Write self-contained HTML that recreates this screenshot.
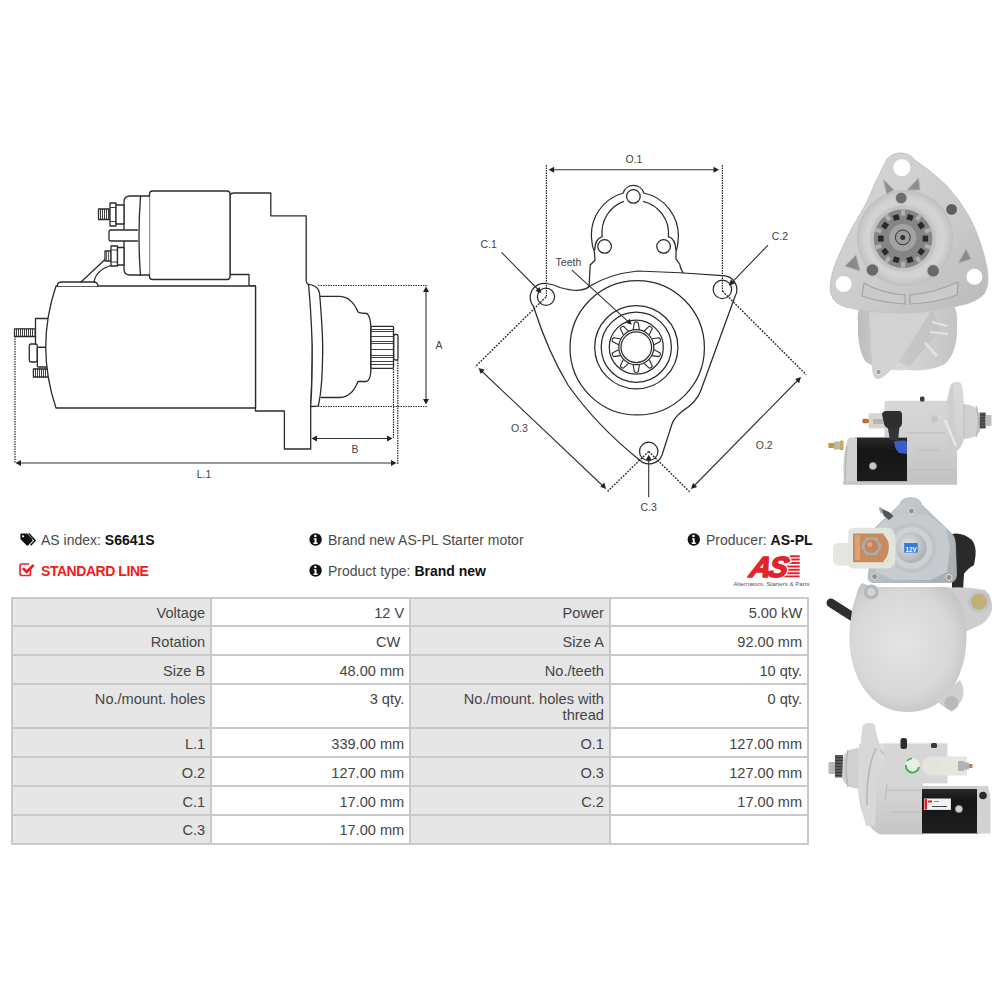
<!DOCTYPE html>
<html><head><meta charset="utf-8">
<style>
html,body{margin:0;padding:0;background:#fff;}
body{width:1000px;height:1000px;position:relative;overflow:hidden;font-family:"Liberation Sans",sans-serif;}
.abs{position:absolute;}
.t{position:absolute;font-size:14px;color:#4a4a4a;white-space:nowrap;line-height:16px;}
.t b{color:#111;}
.tbl{position:absolute;left:11px;top:597px;}
.c{position:absolute;box-sizing:border-box;font-size:14.6px;color:#454545;text-align:right;padding:6.5px 5px 0 0;line-height:16px;}
.lb{background:#e6e6e6;}
.vl{background:#fff;}
svg{position:absolute;left:0;top:0;}
</style></head><body>
<!--LEFT-->
<svg width="1000" height="1000" viewBox="0 0 1000 1000">
<g fill="#fff" stroke="#2b2b2b" stroke-width="1.3" stroke-linejoin="round" stroke-linecap="round">
  <!-- housing -->
  <path d="M230,195 Q231,193 234,193 H270.8 V215.8 H306.2 V280 Q306.5,284 308.5,284.3 L311,290 Q313,330 312.2,360 Q311.5,390 310.7,406.5 V449 H284.4 V411 H255.5 V286 H249 V274.5 H230 Z"/>
  <!-- nose -->
  <path d="M319.8,296.3 H340 Q352,297 358,312 Q361,313.5 367,313.5 Q370.5,317 370.8,326 V372 Q370,381 366,381.5 H358 Q352,397 340,397.5 H321.3"/>
  <!-- flange -->
  <path d="M308.5,284.3 Q316,285 318.5,290 Q320,294 319.8,296.3 Q323.5,340 322.5,360 Q322,390 318.3,405.8 Q316,406.5 310.7,406.5 Q312.5,380 312.2,345 Q311,310 308.5,284.3 Z"/>
  <!-- pinion -->
  <rect x="371" y="326.3" width="22.5" height="42" rx="1"/>
  <rect x="393.8" y="334.5" width="4.2" height="25.5" rx="1.5"/>
  <!-- solenoid body -->
  <rect x="149.5" y="191" width="80.5" height="88.5" rx="3"/>
  <path d="M149.5,196 H130 Q124,196 124,202 V269 Q124,275 130,275 H149.5"/>
  <path d="M140.5,196.5 Q137.5,236 140.5,275" fill="none"/>
  <!-- rear terminal -->
  <rect x="14.5" y="328.8" width="20.7" height="7.7"/>
  <rect x="35.5" y="318.5" width="14" height="28.8"/>
  <rect x="29.3" y="344" width="8" height="18" rx="1.8"/>
  <rect x="37.3" y="347.3" width="12" height="19.7" rx="1"/>
  <rect x="33.4" y="369" width="15" height="8"/>
  <path d="M16.5,329v7M18.5,329v7M20.5,329v7M22.5,329v7M24.5,329v7M26.5,329v7M28.5,329v7M30.5,329v7M32.5,329v7M35.5,369v8M37.5,369v8M39.5,369v8M41.5,369v8M43.5,369v8M45.5,369v8" stroke-width="0.9" fill="none"/>
  <!-- motor body -->
  <path d="M56,286 H255.5 V408 H56 Q35.5,347 56,286 Z"/>
  <!-- pad + wire -->
  <path d="M57.5,286 V284.5 Q58,282 62,282 H94 Q97.5,282 98,286" />
  <path d="M81,282 L105,259.5 M94,282 Q96,270 111,265.5" fill="none"/>
  <!-- top stud/nut -->
  <rect x="98.5" y="209" width="11.5" height="10.5"/>
  <rect x="110" y="203" width="6" height="23"/>
  <rect x="116" y="205" width="8" height="19"/>
  <!-- tab -->
  <path d="M137.5,230 H111 Q109,230 109,232 V239 Q109,241 111,241 H137.5"/>
  <!-- lower stud/nut -->
  <rect x="105" y="251" width="6" height="10"/>
  <rect x="111" y="246" width="6.5" height="20"/>
  <rect x="117.5" y="247.5" width="6.5" height="17.5"/>
</g>
<!-- threads -->
<g stroke="#2b2b2b" stroke-width="0.9">
  <path d="M100.5,209v10.5M102.5,209v10.5M104.5,209v10.5M106.5,209v10.5M108.5,209v10.5"/>
  <path d="M106.6,251.5v9M108.6,251.5v9" stroke-width="0.8"/>
  <path d="M110,207.5h6M110,221.5h6M111,250h6.5M111,262h6.5" stroke-width="0.9"/>
  <path d="M371,329.5h22.5M371,331.5h22.5M371,336.5h22.5M371,341.5h22.5M371,343.5h22.5M371,349.5h22.5M371,355.5h22.5M371,357.5h22.5M371,361.5h22.5M371,364.5h22.5"/>
</g>
<!-- dimensions -->
<g stroke="#222" stroke-width="1.2" fill="none" stroke-dasharray="1.4,1.1">
  <path d="M15,336 V463"/>
  <path d="M318,285.5 H428"/>
  <path d="M318,406.5 H428"/>
  <path d="M393.5,369 V439"/>
  <path d="M397.8,360 V465"/>
</g>
<g stroke="#333" stroke-width="1.1" fill="none">
  <path d="M19,463 H393"/>
  <path d="M315,438.5 H389"/>
  <path d="M426,290 V401"/>
</g>
<g fill="#222">
  <path d="M15.5,463 l5.5,-3 v6z"/>
  <path d="M396.5,463 l-5.5,-3 v6z"/>
  <path d="M311.5,438.5 l5.5,-3 v6z"/>
  <path d="M392.5,438.5 l-5.5,-3 v6z"/>
  <path d="M426,286.5 l-3,5.5 h6z"/>
  <path d="M426,404.5 l-3,-5.5 h6z"/>
</g>
<g font-family="Liberation Sans" font-size="10.5" fill="#444" text-anchor="middle">
  <text x="204" y="478">L.1</text>
  <text x="355" y="452.5">B</text>
  <text x="439" y="349">A</text>
</g>
</svg>
<!--/LEFT-->
<!--MID-->
<svg width="1000" height="1000" viewBox="0 0 1000 1000">
<g fill="#fff" stroke="#2b2b2b" stroke-width="1.25" stroke-linejoin="round">
  <!-- upper bracket outline -->
  <path d="M589,288 L590.2,265 L595,260.2 L594.4,251.8 Q592,246 591.6,239 A43.5,43.5 0 0 1 623.2,193 A10.8,10.8 0 0 1 643.8,193 A43.5,43.5 0 0 1 678.2,239 Q678,246 676,251.8 L676,259 L679.6,263.8 L680.8,268.6 L684.4,275 Z"/>
  <path d="M594.6,250.5 Q595,238.5 602.2,236.6 A33,33 0 0 1 623.8,201.4 M643,201.4 A33,33 0 0 1 668.4,236.6 Q675.5,238.5 676,250.5" fill="none"/>
  <circle cx="633.4" cy="196.4" r="6.8"/>
  <circle cx="604.6" cy="246.4" r="6.8"/>
  <circle cx="663.6" cy="246.4" r="6.8"/>
  <!-- flange -->
  <path d="M533.5,306.5 A14,14 0 0 1 546,283.5 Q553,283.8 560,287.5 Q572,291 580,290.2 Q586,289.5 590,286 Q610,274 637.6,271 Q680,272 722.5,275.6 A14,14 0 0 1 735,296.5 L701,390 Q697,402 683,410.6 Q674,418 672,424 L662,455 A13.8,13.8 0 0 1 639.5,460 Q596,425 568,385 Q548,352 533.5,306.5 Z"/>
  <circle cx="546" cy="296.8" r="8.6"/>
  <circle cx="722.4" cy="289.4" r="9.2"/>
  <circle cx="648.7" cy="451.4" r="9.2"/>
  <circle cx="637.2" cy="347.8" r="67.2"/>
  <circle cx="636.3" cy="347.2" r="41.6"/>
  <circle cx="636.3" cy="347.2" r="35.1"/>
  <circle cx="636.3" cy="347.2" r="27"/>
  <circle cx="636.3" cy="347.2" r="17.5"/>
  <circle cx="636.3" cy="347.2" r="15.3"/>
  <path d="M639.4,329.6 L638.2,322.6 Q636.3,321.2 634.4,322.6 L633.2,329.6 M649.2,334.8 L652.3,328.4 Q651.6,326.2 649.2,326.2 L644.1,331.1 M654.0,344.7 L660.3,341.4 Q661.0,339.2 659.1,337.8 L652.1,338.8 M652.1,355.6 L659.1,356.6 Q661.0,355.2 660.3,353.0 L654.0,349.7 M644.1,363.3 L649.2,368.2 Q651.6,368.2 652.3,366.0 L649.2,359.6 M633.2,364.8 L634.4,371.8 Q636.3,373.2 638.2,371.8 L639.4,364.8 M623.4,359.6 L620.3,366.0 Q621.0,368.2 623.4,368.2 L628.5,363.3 M618.6,349.7 L612.3,353.0 Q611.6,355.2 613.5,356.6 L620.5,355.6 M620.5,338.8 L613.5,337.8 Q611.6,339.2 612.3,341.4 L618.6,344.7 M628.5,331.1 L623.4,326.2 Q621.0,326.2 620.3,328.4 L623.4,334.8" fill="none" stroke-width="1.1"/>
</g>
<g stroke="#222" stroke-width="1.2" fill="none" stroke-dasharray="1.4,1.1">
  <path d="M546.4,165 V297"/>
  <path d="M722.4,165 V291"/>
</g>
<g stroke="#222" stroke-width="1.35" fill="none" stroke-dasharray="1.8,1.3">
  <path d="M546,297 L475,367"/>
  <path d="M648.7,451.4 L607.6,491.4"/>
  <path d="M722.4,291 L806.2,374.7"/>
  <path d="M648.7,451.4 L690,492.2"/>
</g>
<g stroke="#333" stroke-width="1.1" fill="none">
  <path d="M552,169.7 H716"/>
  <path d="M481,370.5 L603.5,486.5"/>
  <path d="M798.5,379.5 L693.5,486.5"/>
  <path d="M501.5,252.3 L538.5,290"/>
  <path d="M768,245.2 L732,282.3"/>
  <path d="M648.7,497.3 V458.5"/>
  <path d="M571.7,269.8 L628.5,321.8"/>
</g>
<g fill="#222">
  <path d="M548.6,169.7 l5.5,-3 v6z"/>
  <path d="M719,169.7 l-5.5,-3 v6z"/>
  <path d="M478.5,368 l2.3,5.9 l3.9,-4.2z"/>
  <path d="M606,489 l-5.8,-2.3 l4.1,-4.1z"/>
  <path d="M801,377 l-5.9,2.1 l4,4.2z"/>
  <path d="M691,489 l2,-5.9 l4.2,4z"/>
  <path d="M541.4,293.1 l-5.9,-2.2 l4,-4z"/>
  <path d="M728.9,285.5 l2,-5.9 l4.1,4z"/>
  <path d="M648.7,454.8 l-3,5.5 h6z"/>
  <path d="M631.75,324.85 l-5.9,-2 l3.9,-4.2z"/>
</g>
<g font-family="Liberation Sans" font-size="10.5" fill="#444" text-anchor="middle">
  <text x="634" y="162.5">O.1</text>
  <text x="488.7" y="247.6">C.1</text>
  <text x="779.9" y="240">C.2</text>
  <text x="568.4" y="265.8">Teeth</text>
  <text x="519.4" y="431.8">O.3</text>
  <text x="764.2" y="449">O.2</text>
  <text x="648.7" y="510.5">C.3</text>
</g>
</svg><!--/MID-->
<!--DRAWINGS-->
<!--P1-->
<svg width="1000" height="1000" viewBox="0 0 1000 1000">
<defs>
  <linearGradient id="p1g" x1="0" y1="0" x2="1" y2="1">
    <stop offset="0" stop-color="#d6d6d6"/><stop offset="0.6" stop-color="#cbcbcb"/><stop offset="1" stop-color="#b9b9b9"/>
  </linearGradient>
  <linearGradient id="p1h" x1="0" y1="0" x2="1" y2="0">
    <stop offset="0" stop-color="#bcbcbc"/><stop offset="0.4" stop-color="#d8d8d8"/><stop offset="1" stop-color="#c4c4c4"/>
  </linearGradient>
  <radialGradient id="p1r" cx="0.5" cy="0.5" r="0.5">
    <stop offset="0.6" stop-color="#cdcdcd"/><stop offset="0.8" stop-color="#d4d4d4"/><stop offset="0.95" stop-color="#c6c6c6"/><stop offset="1" stop-color="#bdbdbd"/>
  </radialGradient>
</defs>
<!-- lower housing -->
<path d="M858,322 Q856,306 866,303 H950 Q958,306 957,325 Q958,352 945,364 Q930,372 905,370 Q880,372 866,362 Q857,350 858,322 Z" fill="url(#p1h)"/>
<path d="M868.8,309 L872.4,372 Q874,380 879,379 Q884,378 898.8,362 L932.4,309 Z" fill="#d2d2d2"/>
<path d="M932.4,309 L898.8,362 Q902,364 910,366 L940,330 Z" fill="#c0c0c0" opacity="0.7"/>
<path d="M947,326 L932,322 M948,334 L930,332" stroke="#e4e4e4" stroke-width="2"/>
<path d="M925,343 L937,356" stroke="#e0e0e0" stroke-width="3"/>
<circle cx="878.6" cy="372" r="2.6" fill="#9a9a9a" stroke="#e6e6e6" stroke-width="1"/>
<!-- flange -->
<path d="M887,159 Q893,152.5 901.5,153 Q910,153.5 914,159.5 Q930,170 946,185 Q960,200 970,218 Q982,242 987,268 Q990,285 984,294 Q976,302 962,305 Q930,313 903,313 Q870,313 846,307 Q834,304 831,294 Q828,283 836,262 Q848,232 866,204 Q876,180 887,159 Z" fill="url(#p1g)" stroke="#c4c4c4" stroke-width="1"/>
<!-- raised ring -->
<circle cx="905" cy="238" r="48" fill="url(#p1r)"/>
<!-- triangles -->
<path d="M883.5,179.5 L894,190 L886.5,194 Z" fill="#8e8e8e" stroke="#b0b0b0" stroke-width="1"/>
<path d="M907,190 L918.5,178 L920,190 Z" fill="#8e8e8e" stroke="#b0b0b0" stroke-width="1"/>
<path d="M845,266 L856,255 L860,271 Z" fill="#8a8a8a" stroke="#b0b0b0" stroke-width="1"/>
<path d="M958.5,263 L966,249 L971,259 Z" fill="#8a8a8a" stroke="#b0b0b0" stroke-width="1"/>
<!-- bottom slots -->
<path d="M864,283 Q880,293 905,295 L905,304 Q878,302 862,296 Z" fill="#cacaca" stroke="#a4a4a4" stroke-width="1.2"/>
<path d="M910,295 Q935,293 958,282 L957,295 Q936,303 910,304 Z" fill="#cacaca" stroke="#a4a4a4" stroke-width="1.2"/>
<!-- holes -->
<circle cx="901.8" cy="167.6" r="8.6" fill="#fff"/>
<circle cx="843.6" cy="284" r="8" fill="#fff"/>
<circle cx="974.4" cy="276.8" r="8" fill="#fff"/>
<circle cx="951.6" cy="209.4" r="5.4" fill="#5e5e5e"/>
<!-- bolts -->
<g stroke="#c8c8c8" stroke-width="1.2">
<circle cx="901.2" cy="198" r="6" fill="#6e6e6e"/>
<circle cx="872.4" cy="270" r="6.4" fill="#6a6a6a"/>
<circle cx="933.2" cy="270.8" r="6.4" fill="#6a6a6a"/>
</g>
<!-- gear -->
<circle cx="903.1" cy="238.6" r="33" fill="#c4c4c4"/>
<circle cx="903.1" cy="238.6" r="29.3" fill="#858585"/>
<g fill="#2a2a2a" transform="translate(903.1,238.6)">
  <rect x="-3" y="-25" width="6" height="5.5" transform="rotate(-18)"/>
  <rect x="-3" y="-25" width="6" height="5.5" transform="rotate(18)"/>
  <rect x="-3" y="-25" width="6" height="5.5" transform="rotate(54)"/>
  <rect x="-3" y="-25" width="6" height="5.5" transform="rotate(90)"/>
  <rect x="-3" y="-25" width="6" height="5.5" transform="rotate(126)"/>
  <rect x="-3" y="-25" width="6" height="5.5" transform="rotate(162)"/>
  <rect x="-3" y="-25" width="6" height="5.5" transform="rotate(198)"/>
  <rect x="-3" y="-25" width="6" height="5.5" transform="rotate(234)"/>
  <rect x="-3" y="-25" width="6" height="5.5" transform="rotate(270)"/>
  <rect x="-3" y="-25" width="6" height="5.5" transform="rotate(306)"/>
</g>
<g fill="#b0b0b0" transform="translate(903.1,238.6)">
  <rect x="-2" y="-29" width="4" height="6"/>
  <rect x="-2" y="-29" width="4" height="6" transform="rotate(36)"/>
  <rect x="-2" y="-29" width="4" height="6" transform="rotate(72)"/>
  <rect x="-2" y="-29" width="4" height="6" transform="rotate(108)"/>
  <rect x="-2" y="-29" width="4" height="6" transform="rotate(144)"/>
  <rect x="-2" y="-29" width="4" height="6" transform="rotate(180)"/>
  <rect x="-2" y="-29" width="4" height="6" transform="rotate(216)"/>
  <rect x="-2" y="-29" width="4" height="6" transform="rotate(252)"/>
  <rect x="-2" y="-29" width="4" height="6" transform="rotate(288)"/>
  <rect x="-2" y="-29" width="4" height="6" transform="rotate(324)"/>
</g>
<circle cx="902.8" cy="237.6" r="13.6" fill="#a2a2a2"/>
<circle cx="902.8" cy="237.4" r="7.4" fill="#9c9c9c" stroke="#2e2e2e" stroke-width="1"/>
<circle cx="902.8" cy="237.4" r="2.5" fill="#333"/>
</svg>
<!--/P1-->
<!--P2-->
<svg width="1000" height="1000" viewBox="0 0 1000 1000">
<defs>
  <linearGradient id="p2v" x1="0" y1="0" x2="0" y2="1">
    <stop offset="0" stop-color="#dadada"/><stop offset="0.5" stop-color="#d2d2d2"/><stop offset="1" stop-color="#c2c2c2"/>
  </linearGradient>
  <linearGradient id="p2b" x1="0" y1="0" x2="0" y2="1">
    <stop offset="0" stop-color="#2a2a2a"/><stop offset="0.3" stop-color="#151515"/><stop offset="1" stop-color="#1c1c1c"/>
  </linearGradient>
</defs>
<!-- nose + pinion -->
<path d="M962,404 Q976,404 979,414 L981,428 Q979,438 964,439 Z" fill="#d0d0d0"/>
<path d="M976,406 Q981,420 976,437" stroke="#b8b8b8" stroke-width="1.5" fill="none"/>
<rect x="979.6" y="412.5" width="6" height="16" fill="#5a5a5a"/>
<rect x="985.5" y="415" width="6" height="11" rx="1" fill="#bdbdbd"/>
<path d="M980,415h5.5M980,418h5.5M980,421h5.5M980,424h5.5M980,427h5.5" stroke="#2a2a2a" stroke-width="0.8"/>
<!-- housing -->
<path d="M884.5,402 Q885,400.8 888,400.8 H947 L951,386 Q952,382 956,382 H959 Q962,383 962.5,388 L964,404 V438 Q963,446 957,451 V484 H906 V437 H884.5 Z" fill="url(#p2v)"/>
<path d="M947,401 L950,386 Q951,383 953,383 L956,440 L950,452" fill="#c9c9c9" opacity="0.6"/>
<path d="M945,420 L956,446" stroke="#e6e6e6" stroke-width="2.5" fill="none"/>
<path d="M964,404 V438" stroke="#bdbdbd" stroke-width="1" fill="none"/>
<path d="M907,433 H945 M918,450 H940 M906,470 H955" stroke="#bcbcbc" stroke-width="1" fill="none"/>
<circle cx="934.5" cy="419" r="3.5" fill="#c6c6c6"/>
<rect x="920" y="396.5" width="4.5" height="5" rx="1.5" fill="#3a3a3a"/>
<!-- black motor -->
<path d="M855,437.4 H907 V481.5 H855 Z" fill="url(#p2b)"/>
<circle cx="872.9" cy="466" r="3.6" fill="#c8c8c8" stroke="#8a8a8a" stroke-width="0.8"/>
<!-- end cap -->
<path d="M850,437.4 H857 V483.6 H844 Q842,460 846,446 Q847,438 850,437.4 Z" fill="#d0d0d0"/>
<path d="M847,446 Q845,464 845,483" stroke="#b0b0b0" stroke-width="1" fill="none"/>
<rect x="843" y="481.5" width="114" height="3.3" fill="#c6c6c6"/>
<!-- stud -->
<rect x="834" y="441.5" width="9" height="8" fill="#b8b8b0"/>
<rect x="840" y="440.6" width="3.5" height="9.5" fill="#c9a860"/>
<rect x="828.3" y="443" width="6" height="5" rx="1" fill="#c09a40"/>
<!-- solenoid -->
<rect x="868.5" y="413.2" width="17" height="15.4" rx="1.5" fill="#d6d4cc"/>
<rect x="873" y="419" width="10" height="5" fill="#a8a8a8" opacity="0.7"/>
<rect x="862.4" y="418.7" width="6.5" height="4.5" rx="1.5" fill="#c8693a"/>
<path d="M882,414 Q883,411 886,411 H899 Q902,411 902,415 V424 Q901,429 893,429 Q885,429 884,424 Z" fill="#2e2e2e"/>
<path d="M887.7,427 H899.5 L898,440 H890 Z" fill="#333"/>
<path d="M894.3,441 L905,440.5 Q907,441 907,445 V454 L899,453 Q894,448 894.3,441 Z" fill="#3a5cc8"/>
</svg>
<!--/P2-->
<!--P3-->
<svg width="1000" height="1000" viewBox="0 0 1000 1000">
<defs>
  <radialGradient id="p3c" cx="0.45" cy="0.45" r="0.6">
    <stop offset="0" stop-color="#e4e4e4"/><stop offset="0.7" stop-color="#d8d8d8"/><stop offset="1" stop-color="#c4c4c4"/>
  </radialGradient>
  <linearGradient id="p3p" x1="0" y1="0" x2="1" y2="1">
    <stop offset="0" stop-color="#cfd3d6"/><stop offset="0.5" stop-color="#b9bec2"/><stop offset="1" stop-color="#a7abb0"/>
  </linearGradient>
  <radialGradient id="p3s" cx="0.4" cy="0.4" r="0.6">
    <stop offset="0" stop-color="#e2e4e6"/><stop offset="1" stop-color="#aeb2b6"/>
  </radialGradient>
</defs>
<!-- black tube right -->
<path d="M952,534 Q962,532 972,540 Q976.5,546 975.5,556 L974,565 Q967,569 964,574 L963,590 H952 Z" fill="#2a2a2a"/>
<!-- left hose -->
<path d="M831,603 L853,617" stroke="#2e2e2e" stroke-width="9" stroke-linecap="round"/>
<!-- bracket right -->
<path d="M944,588 Q965,586 985,590 Q993,596 992,610 Q988,622 978,626 L965,632 Q955,628 944,620 Z" fill="#cdcdcd"/>
<!-- left bracket bits -->
<path d="M862,583 Q855,590 856,605 L866,612 L880,590 Z" fill="#c4c4c4"/>
<!-- end cap -->
<path d="M862,587 H947 Q961,597 965,618 C972,660 955,712 908,712 C861,712 844,660 851,618 Q853,597 862,587 Z" fill="url(#p3c)"/>
<path d="M935,700 Q945,708 952,712 L962,700 Q966,690 960,680 Z" fill="#cfcfcf"/>
<!-- bolts -->
<circle cx="979" cy="601.7" r="11" fill="#c0c4c8"/>
<circle cx="979" cy="601.7" r="8" fill="#c2ae78"/>
<circle cx="871.2" cy="592" r="7.5" fill="#b4b8bc"/>
<circle cx="871.2" cy="592" r="4" fill="#d2d4d6"/>
<circle cx="951.5" cy="703" r="7" fill="#b6babe"/>
<!-- solenoid plate -->
<path d="M900,504.5 Q901,498 910.5,497.8 Q920,498 921.5,504.5 L951.4,533.4 Q955,536 955.5,545 L956.5,575 Q956,582 950,582.5 H873 Q868,582 868.2,577 L873,532 Q874,528 877,526 Z" fill="url(#p3p)" stroke="#a9aeb3" stroke-width="0.8"/>
<path d="M880,526 L898,514 H926 L946,528 L950,548 L947,572 L930,580 H893 L876,572 L874,548 Z" fill="#c6cbcf"/>
<circle cx="911.4" cy="547.8" r="25" fill="#bfc4c8"/>
<circle cx="911.4" cy="547.8" r="21" fill="#cdd1d4"/>
<circle cx="911.4" cy="547.8" r="15.2" fill="url(#p3s)"/>
<rect x="904.2" y="543" width="13.6" height="9.6" fill="#2f7fd6"/>
<text x="911" y="551.6" font-family="Liberation Sans" font-size="8" font-weight="bold" fill="#fff" text-anchor="middle" textLength="11" lengthAdjust="spacingAndGlyphs">12V</text>
<circle cx="911.4" cy="511" r="3" fill="#8e9498" stroke="#dfe2e4" stroke-width="1"/>
<circle cx="874.6" cy="576.6" r="3" fill="#8e9498" stroke="#dfe2e4" stroke-width="1"/>
<circle cx="949" cy="577.4" r="3" fill="#8e9498" stroke="#dfe2e4" stroke-width="1"/>
<!-- top stud -->
<path d="M880,508 L884,516 L889,520 L893.5,516 L889,512 Z" fill="#555"/>
<rect x="879.5" y="507.5" width="2.5" height="6" fill="#aaa" transform="rotate(-20 880 510)"/>
<!-- terminal block -->
<path d="M833,549 Q833,543 838,543 H849 V565.4 H838 Q833,565 833,559 Z" fill="#e4e6e0"/>
<path d="M852,527.8 H888 Q895.5,529 895.4,540 V560 Q895,568.6 886,568.6 H852 Q848.2,568 848.2,562 V534 Q848.2,528 852,527.8 Z" fill="#e2e4de"/>
<path d="M853,533.4 H884 Q889,535 889,545 V556 Q888.5,562 884,562.2 H853 Z" fill="#c98a5c"/>
<path d="M855,535 H860 V560 H855 Z" fill="#e0a878" opacity="0.8"/>
<path d="M884,533.4 Q891,540 890,548 Q889.5,558 884,562.2" fill="none" stroke="#e2e4de" stroke-width="2.5"/>
<polygon points="881.8,546.2 876.6,555.2 866.2,555.2 861,546.2 866.2,537.2 876.6,537.2" fill="#a8acb0"/>
<circle cx="871.4" cy="546.2" r="6.8" fill="#c4865c"/>
<circle cx="869.8" cy="544.6" r="2.5" fill="#e2a47c"/>
</svg><!--/P3-->
<!--P4-->
<svg width="1000" height="1000" viewBox="0 0 1000 1000">
<defs>
  <linearGradient id="p4v" x1="0" y1="0" x2="0" y2="1">
    <stop offset="0" stop-color="#dcdcdc"/><stop offset="0.5" stop-color="#d4d4d4"/><stop offset="1" stop-color="#c6c6c6"/>
  </linearGradient>
  <linearGradient id="p4b" x1="0" y1="0" x2="0" y2="1">
    <stop offset="0" stop-color="#2c2c2c"/><stop offset="0.25" stop-color="#151515"/><stop offset="1" stop-color="#1e1e1e"/>
  </linearGradient>
</defs>
<!-- pinion + nose -->
<rect x="828.5" y="762" width="8" height="12" rx="1.5" fill="#b8b8b8"/>
<rect x="835" y="755" width="8" height="22.5" fill="#5c5c5c"/>
<path d="M835,757.5h8M835,760.5h8M835,763.5h8M835,766.5h8M835,769.5h8M835,772.5h8M835,775.5h8" stroke="#2e2e2e" stroke-width="0.8"/>
<path d="M860,748 Q846,748 843,758 L842,778 Q845,788 860,789 Z" fill="#d0d0d0"/>
<path d="M848,750 Q844,768 848,787" stroke="#b5b5b5" stroke-width="1.5" fill="none"/>
<!-- housing -->
<path d="M859,743.5 H884 V743.4 H947 V782 H923 V834.5 H880 Q872,830 870,826 L862,812 Q858,800 858,780 Z" fill="url(#p4v)"/>
<path d="M862,730 Q862,723 868,723 H872 Q876,724 876,732 L880,746 Q876,760 876,800 L875,826 H866 Q858,800 858,770 Z" fill="#d8d8d8"/>
<path d="M876,748 Q866,770 867,805" stroke="#b4b4b4" stroke-width="1.5" fill="none"/>
<path d="M880,750 L890,760 L885,800" stroke="#bdbdbd" stroke-width="1.2" fill="none"/>
<path d="M885,790 H921 M890,812 H921" stroke="#bcbcbc" stroke-width="1" fill="none"/>
<!-- solenoid area -->
<rect x="884.5" y="743.4" width="63" height="40" fill="#d6d6d6"/>
<path d="M884.5,743.4 H947.5" stroke="#e6e6e6" stroke-width="1.2"/>
<circle cx="912.5" cy="765.3" r="7.2" fill="#e6f0e6"/>
<path d="M906,765 A6.5,6.5 0 0 0 919,767" stroke="#3cb04a" stroke-width="1.8" fill="none"/>
<path d="M907,761 A6.5,6.5 0 0 1 912,758.5" stroke="#3cb04a" stroke-width="1.5" fill="none"/>
<rect x="900.5" y="738" width="6.5" height="11" rx="2.5" fill="#2e2e2e"/>
<rect x="931" y="743" width="6" height="5" rx="1.5" fill="#3a3a3a"/>
<!-- white connector -->
<rect x="936" y="756.5" width="31" height="19" fill="#e6e6de"/>
<circle cx="931.5" cy="766" r="9.8" fill="#e4e4dc"/>
<rect x="958" y="761" width="6" height="10" fill="#b0b4b8"/>
<rect x="964" y="762.5" width="5" height="7" fill="#aeb2b6"/>
<rect x="969" y="764" width="3.5" height="4" fill="#d07a40"/>
<!-- black motor -->
<path d="M922,788 H979 V833.5 H922 Z" fill="url(#p4b)"/>
<rect x="922" y="786" width="66" height="3" fill="#c8c8c8"/>
<rect x="923.9" y="798.5" width="27" height="11.4" fill="#f2f2f2"/>
<rect x="924.5" y="799" width="2.5" height="10.5" fill="#e02020"/>
<rect x="928" y="800.5" width="4" height="2" fill="#d02828"/>
<path d="M932,806.5 H947" stroke="#444" stroke-width="1"/>
<path d="M934,801.5 H939" stroke="#777" stroke-width="0.8"/>
<circle cx="958.9" cy="809" r="3.6" fill="#cfcfcf" stroke="#8a8a8a" stroke-width="0.8"/>
<!-- end cap -->
<path d="M977,786 H986 Q991,790 990.5,805 V833.5 H977 Z" fill="#d2d2d2"/>
<circle cx="983" cy="795.5" r="3.8" fill="#2c2c2c"/>
</svg>
<!--/P4-->
<!--PHOTOS-->

<!-- info section -->
<svg width="1000" height="1000" viewBox="0 0 1000 1000">
  <!-- tags icon -->
  <path d="M21.4,533.5 H27.2 L32.4,539.2 Q33,540.3 32.2,541.2 L28.3,545.3 Q27.4,546.1 26.5,545.3 L20.8,539.4 Q20.4,539 20.4,538.2 V534.5 Q20.4,533.5 21.4,533.5 Z M23,535.2 a1,1 0 1 0 0.01,0 Z" fill="#111" fill-rule="evenodd"/>
  <path d="M28.6,533.6 L35.2,540.4 L30.6,545.2" stroke="#111" stroke-width="1.5" fill="none" stroke-linejoin="round"/>
  <!-- check icon -->
  <path d="M30.5,567.5 V573.5 Q30.5,575.5 28.5,575.5 H22 Q20,575.5 20,573.5 V566 Q20,564 22,564 H29" stroke="#f0242c" stroke-width="1.7" fill="none"/>
  <path d="M23.6,568.9 L26.6,572 L33,565.6" stroke="#f01818" stroke-width="2.6" fill="none" stroke-linecap="round"/>
  <!-- info icons -->
  <g>
    <circle cx="315.6" cy="539.5" r="6.2" fill="#111"/>
    <circle cx="315.3" cy="535.9" r="1.25" fill="#fff"/>
    <path d="M313.8,538.2 H316.5 V542.6 H317.6 V543.9 H313.5 V542.6 H314.6 V539.5 H313.8 Z" fill="#fff"/>
  </g>
  <g transform="translate(0,31)">
    <circle cx="315.6" cy="539.5" r="6.2" fill="#111"/>
    <circle cx="315.3" cy="535.9" r="1.25" fill="#fff"/>
    <path d="M313.8,538.2 H316.5 V542.6 H317.6 V543.9 H313.5 V542.6 H314.6 V539.5 H313.8 Z" fill="#fff"/>
  </g>
  <g transform="translate(378.2,0)">
    <circle cx="315.6" cy="539.5" r="6.2" fill="#111"/>
    <circle cx="315.3" cy="535.9" r="1.25" fill="#fff"/>
    <path d="M313.8,538.2 H316.5 V542.6 H317.6 V543.9 H313.5 V542.6 H314.6 V539.5 H313.8 Z" fill="#fff"/>
  </g>
  <!-- AS logo -->
  <g fill="#e3232b">
    <path d="M790.5,555.2 H799.7 V557.2 H789.5 Z"/>
    <path d="M788.6,558.6 H799.7 V560.6 H787.6 Z"/>
    <path d="M786.7,562 H799.7 V564 H785.7 Z"/>
    <path d="M784.8,565.4 H799.7 V567.4 H783.8 Z"/>
    <path d="M782.9,568.8 H799.7 V570.8 H781.9 Z"/>
    <path d="M781,572.2 H799.7 V574.2 H780 Z"/>
    <path d="M779.1,575.4 H799.7 V577.3 H778.2 Z"/>
  </g>
  <g transform="translate(746,577.3) skewX(-12) translate(-746,-577.3)" font-family="Liberation Sans" font-size="29" font-weight="bold" font-style="italic" letter-spacing="-2.5">
    <text x="748.5" y="577.3" fill="#fff" stroke="#fff" stroke-width="4">AS</text>
    <text x="748.5" y="577.3" fill="#e3232b" stroke="#e3232b" stroke-width="1.6" stroke-linejoin="round">AS</text>
  </g>
  <text x="771.5" y="585.6" font-family="Liberation Sans" font-size="6.2" fill="#555" text-anchor="middle" textLength="76" lengthAdjust="spacingAndGlyphs">Alternators, Starters &amp; Parts</text>
</svg>

<div class="t" style="left:41px;top:532px;">AS index: <b>S6641S</b></div>
<div class="t" style="left:41px;top:563px;color:#f01c1c;font-weight:bold;letter-spacing:-0.45px;">STANDARD LINE</div>
<div class="t" style="left:328px;top:532px;">Brand new AS-PL Starter motor</div>
<div class="t" style="left:328px;top:563px;">Product type: <b>Brand new</b></div>
<div class="t" style="left:706px;top:532px;">Producer: <b>AS-PL</b></div>

<!-- table -->
<div class="abs" style="left:10.8px;top:596.5px;width:798.4000000000001px;height:248.10000000000002px;background:#c9c9c9;border-radius:1px;"></div>
<div class="c lb" style="left:12.8px;top:598.5px;width:197.4px;height:26.8px;">Voltage</div>
<div class="c vl" style="left:212.2px;top:598.5px;width:197.1px;height:26.8px;">12 V</div>
<div class="c lb" style="left:411.3px;top:598.5px;width:197.7px;height:26.8px;">Power</div>
<div class="c vl" style="left:611.0px;top:598.5px;width:196.2px;height:26.8px;">5.00 kW</div>
<div class="c lb" style="left:12.8px;top:627.3px;width:197.4px;height:26.8px;">Rotation</div>
<div class="c vl" style="left:212.2px;top:627.3px;width:197.1px;height:26.8px;">CW&nbsp;</div>
<div class="c lb" style="left:411.3px;top:627.3px;width:197.7px;height:26.8px;">Size A</div>
<div class="c vl" style="left:611.0px;top:627.3px;width:196.2px;height:26.8px;">92.00 mm</div>
<div class="c lb" style="left:12.8px;top:656.1px;width:197.4px;height:26.8px;">Size B</div>
<div class="c vl" style="left:212.2px;top:656.1px;width:197.1px;height:26.8px;">48.00 mm</div>
<div class="c lb" style="left:411.3px;top:656.1px;width:197.7px;height:26.8px;">No./teeth</div>
<div class="c vl" style="left:611.0px;top:656.1px;width:196.2px;height:26.8px;">10 qty.</div>
<div class="c lb" style="left:12.8px;top:684.9px;width:197.4px;height:42.5px;">No./mount. holes</div>
<div class="c vl" style="left:212.2px;top:684.9px;width:197.1px;height:42.5px;">3 qty.</div>
<div class="c lb" style="left:411.3px;top:684.9px;width:197.7px;height:42.5px;">No./mount. holes with<br>thread</div>
<div class="c vl" style="left:611.0px;top:684.9px;width:196.2px;height:42.5px;">0 qty.</div>
<div class="c lb" style="left:12.8px;top:729.4px;width:197.4px;height:26.8px;">L.1</div>
<div class="c vl" style="left:212.2px;top:729.4px;width:197.1px;height:26.8px;">339.00 mm</div>
<div class="c lb" style="left:411.3px;top:729.4px;width:197.7px;height:26.8px;">O.1</div>
<div class="c vl" style="left:611.0px;top:729.4px;width:196.2px;height:26.8px;">127.00 mm</div>
<div class="c lb" style="left:12.8px;top:758.2px;width:197.4px;height:26.8px;">O.2</div>
<div class="c vl" style="left:212.2px;top:758.2px;width:197.1px;height:26.8px;">127.00 mm</div>
<div class="c lb" style="left:411.3px;top:758.2px;width:197.7px;height:26.8px;">O.3</div>
<div class="c vl" style="left:611.0px;top:758.2px;width:196.2px;height:26.8px;">127.00 mm</div>
<div class="c lb" style="left:12.8px;top:787.0px;width:197.4px;height:26.8px;">C.1</div>
<div class="c vl" style="left:212.2px;top:787.0px;width:197.1px;height:26.8px;">17.00 mm</div>
<div class="c lb" style="left:411.3px;top:787.0px;width:197.7px;height:26.8px;">C.2</div>
<div class="c vl" style="left:611.0px;top:787.0px;width:196.2px;height:26.8px;">17.00 mm</div>
<div class="c lb" style="left:12.8px;top:815.8px;width:197.4px;height:26.8px;">C.3</div>
<div class="c vl" style="left:212.2px;top:815.8px;width:197.1px;height:26.8px;">17.00 mm</div>
<div class="c lb" style="left:411.3px;top:815.8px;width:197.7px;height:26.8px;"></div>
<div class="c vl" style="left:611.0px;top:815.8px;width:196.2px;height:26.8px;"></div>

</body></html>
